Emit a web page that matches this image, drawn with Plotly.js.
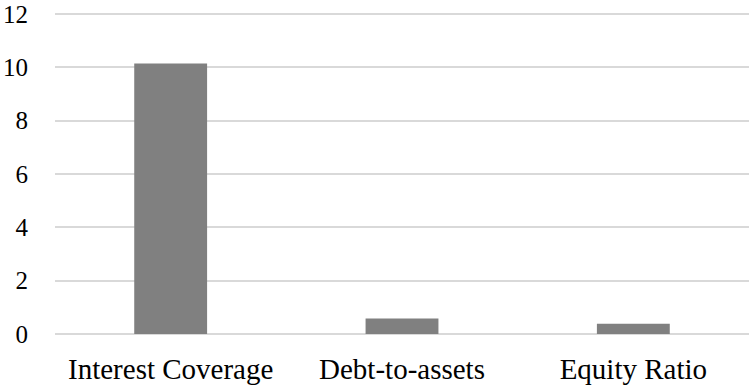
<!DOCTYPE html>
<html>
<head>
<meta charset="utf-8">
<script src="https://cdn.plot.ly/plotly-3.0.1.min.js"></script>
<style>html,body{margin:0;padding:0;background:#fff;}#chart{width:753px;height:389px;}</style>
</head>
<body>
<div id="chart"></div>
<script>
const categories = ["Interest Coverage", "Debt-to-assets", "Equity Ratio"];
const values = [10.15, 0.58, 0.38];
const yTicks = [0, 2, 4, 6, 8, 10, 12];

Plotly.newPlot('chart', [{
  type: 'bar',
  x: categories,
  y: values,
  marker: {color: '#808080'},
  hoverinfo: 'none'
}], {
  width: 753,
  height: 389,
  margin: {l: 55, r: 4, t: 13, b: 55},
  paper_bgcolor: '#ffffff',
  plot_bgcolor: '#ffffff',
  bargap: 0.685,
  showlegend: false,
  font: {family: '"Liberation Serif", "Times New Roman", serif', size: 26, color: '#000000'},
  xaxis: {
    type: 'category',
    showgrid: false,
    showline: false,
    zeroline: false,
    ticks: '',
    ticklabelstandoff: 15,
    ticklabeloverflow: 'allow',
    tickfont: {family: '"Liberation Serif", serif', size: 29}
  },
  yaxis: {
    range: [0, 12.04],
    tickvals: yTicks,
    ticktext: yTicks.map(String),
    showgrid: true,
    gridcolor: '#d9d9d9',
    gridwidth: 2,
    zeroline: true,
    zerolinecolor: '#d9d9d9',
    zerolinewidth: 2,
    showline: false,
    ticks: '',
    ticklabelstandoff: 26,
    ticklabeloverflow: 'allow',
    tickfont: {family: '"Liberation Serif", serif', size: 25}
  }
}, {staticPlot: true, displayModeBar: false});
</script>
</body>
</html>
